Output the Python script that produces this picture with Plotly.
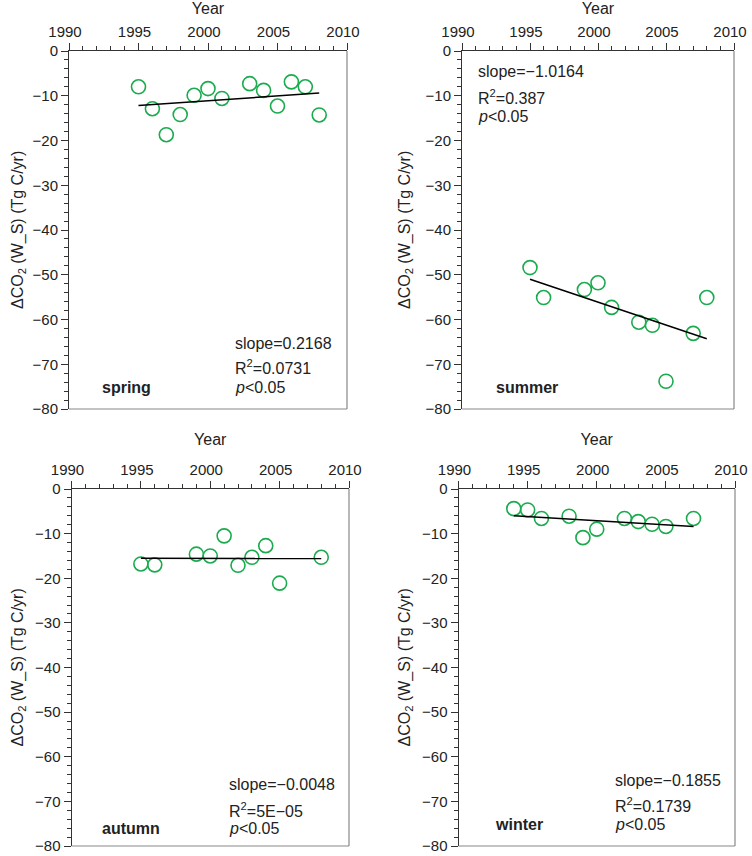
import plotly.graph_objects as go

# values
spring_years = [1995, 1996, 1997, 1998, 1999, 2000, 2001, 2003, 2004, 2005, 2006, 2007, 2008]
spring_vals = [-8.0, -12.9, -18.7, -14.2, -9.9, -8.4, -10.6, -7.3, -8.8, -12.3, -6.9, -8.0, -14.3]
spring_fit_x = [1995, 2008]
spring_fit_y = [-12.2, -9.4]

summer_years = [1995, 1996, 1999, 2000, 2001, 2003, 2004, 2005, 2007, 2008]
summer_vals = [-48.4, -55.1, -53.3, -51.8, -57.3, -60.6, -61.3, -73.8, -63.1, -55.1]
summer_fit_x = [1995, 2008]
summer_fit_y = [-51.0, -64.3]

autumn_years = [1995, 1996, 1999, 2000, 2001, 2002, 2003, 2004, 2005, 2008]
autumn_vals = [-16.8, -17.0, -14.6, -15.0, -10.5, -17.1, -15.3, -12.7, -21.1, -15.3]
autumn_fit_x = [1995, 2008]
autumn_fit_y = [-15.5, -15.6]

winter_years = [1994, 1995, 1996, 1998, 1999, 2000, 2002, 2003, 2004, 2005, 2007]
winter_vals = [-4.4, -4.7, -6.6, -6.1, -10.9, -9.0, -6.6, -7.3, -7.9, -8.4, -6.6]
winter_fit_x = [1994, 2007]
winter_fit_y = [-6.0, -8.4]

season_names = ['spring', 'summer', 'autumn', 'winter']
slopes = ['slope=0.2168', 'slope=\u22121.0164', 'slope=\u22120.0048', 'slope=\u22120.1855']
r2s = ['R<sup>2</sup>=0.0731', 'R<sup>2</sup>=0.387', 'R<sup>2</sup>=5E\u221205', 'R<sup>2</sup>=0.1739']

W, H = 752, 856
FONT = 'Liberation Sans, Arial, Helvetica, sans-serif'
GREEN = '#1aab4e'
TICK_SIZE = 15

panels = [
    (spring_years, spring_vals, spring_fit_x, spring_fit_y),
    (summer_years, summer_vals, summer_fit_x, summer_fit_y),
    (autumn_years, autumn_vals, autumn_fit_x, autumn_fit_y),
    (winter_years, winter_vals, winter_fit_x, winter_fit_y),
]

# panel boxes in pixels: left, right, top, bottom
boxes = [(69, 347, 51, 409), (462, 734, 51, 409),
         (71.5, 349, 489, 846), (458.5, 735, 489, 846)]
# stats text (x frac, y frac of slope, r2, p) and season label x frac
stat_pos = [(0.59, [0.184, 0.117, 0.059], 0.11),
            (0.051, [0.942, 0.872, 0.816], 0.118),
            (0.559, [0.171, 0.101, 0.050], 0.102),
            (0.558, [0.184, 0.115, 0.059], 0.125)]
label_y = [0.059, 0.059, 0.050, 0.059]

fig = go.Figure()
layout = {}
annotations = []
shapes = []

for i, (yrs, vals, fx, fy) in enumerate(panels):
    n = '' if i == 0 else str(i + 1)
    xa, ya = 'x' + n, 'y' + n
    fig.add_trace(go.Scatter(x=yrs, y=vals, mode='markers', xaxis=xa, yaxis=ya,
                             marker=dict(symbol='circle-open', size=14, color=GREEN,
                                         line=dict(width=1.6, color=GREEN)),
                             showlegend=False, cliponaxis=False))
    fig.add_trace(go.Scatter(x=fx, y=fy, mode='lines', xaxis=xa, yaxis=ya,
                             line=dict(color='black', width=1.5), showlegend=False))
    l, r, t, b = boxes[i]
    layout['xaxis' + n] = dict(
        domain=[l / W, r / W], anchor=ya, side='top', range=[1990, 2010], automargin=False,
        tickmode='linear', tick0=1990, dtick=5, ticks='outside', ticklen=7,
        tickwidth=1, tickcolor='#333', showline=True, linecolor='#333', linewidth=1,
        showgrid=False, zeroline=False, ticklabeloverflow='allow', ticklabelshift=-4,
        minor=dict(dtick=1, tick0=1990, ticks='outside', ticklen=4, tickcolor='#333', showgrid=False),
        title=dict(text='Year', standoff=11, font=dict(family=FONT, size=16, color='#222')),
        tickfont=dict(family=FONT, size=TICK_SIZE, color='#222'),
    )
    layout['yaxis' + n] = dict(
        domain=[1 - b / H, 1 - t / H], anchor=xa, range=[-80, 0], automargin=False,
        tickmode='linear', tick0=0, dtick=10, ticks='outside', ticklen=7,
        tickwidth=1, tickcolor='#333', showline=True, linecolor='#333', linewidth=1,
        showgrid=False, zeroline=False, ticklabeloverflow='allow',
        minor=dict(dtick=2, ticks='outside', ticklen=4, tickcolor='#333', showgrid=False),
        tickfont=dict(family=FONT, size=TICK_SIZE, color='#222'),
    )
    # right and bottom frame
    shapes.append(dict(type='line', xref=xa + ' domain', yref=ya + ' domain',
                       x0=1, x1=1, y0=0, y1=1, line=dict(color='#888', width=1.2)))
    shapes.append(dict(type='line', xref=xa + ' domain', yref=ya + ' domain',
                       x0=0, x1=1, y0=0, y1=0, line=dict(color='#888', width=1.2)))

    sx, sys_, lx = stat_pos[i]
    texts = [slopes[i], r2s[i], '<i>p</i>&lt;0.05']
    for txt, yy in zip(texts, sys_):
        annotations.append(dict(text=txt, xref=xa + ' domain', yref=ya + ' domain',
                                x=sx, y=yy, xanchor='left', yanchor='middle', showarrow=False,
                                font=dict(size=16, color='#222')))
    annotations.append(dict(text='<b>' + season_names[i] + '</b>', xref=xa + ' domain',
                            yref=ya + ' domain', x=lx, y=label_y[i], xanchor='left',
                            yanchor='middle', showarrow=False, font=dict(size=16, color='#222')))
    # y title
    ytitle_x = 18 if i % 2 == 0 else 405
    annotations.append(dict(text='\u0394CO<sub>2</sub> (W_S) (Tg C/yr)', xref='paper', yref='paper',
                            x=ytitle_x / W, y=1 - (t + b) / 2 / H, textangle=-90,
                            xanchor='center', yanchor='middle', showarrow=False,
                            font=dict(size=16, color='#222')))

fig.update_layout(width=W, height=H, margin=dict(l=0, r=0, t=0, b=0),
                  paper_bgcolor='white', plot_bgcolor='white',
                  font=dict(family=FONT, size=16, color='#222'),
                  annotations=annotations, shapes=shapes, **layout)

# page body has a default 8px margin; drop it so the figure fills the window
fig.write_html('out.html', config={'displayModeBar': False},
               post_script="document.body.style.margin='0px';")
